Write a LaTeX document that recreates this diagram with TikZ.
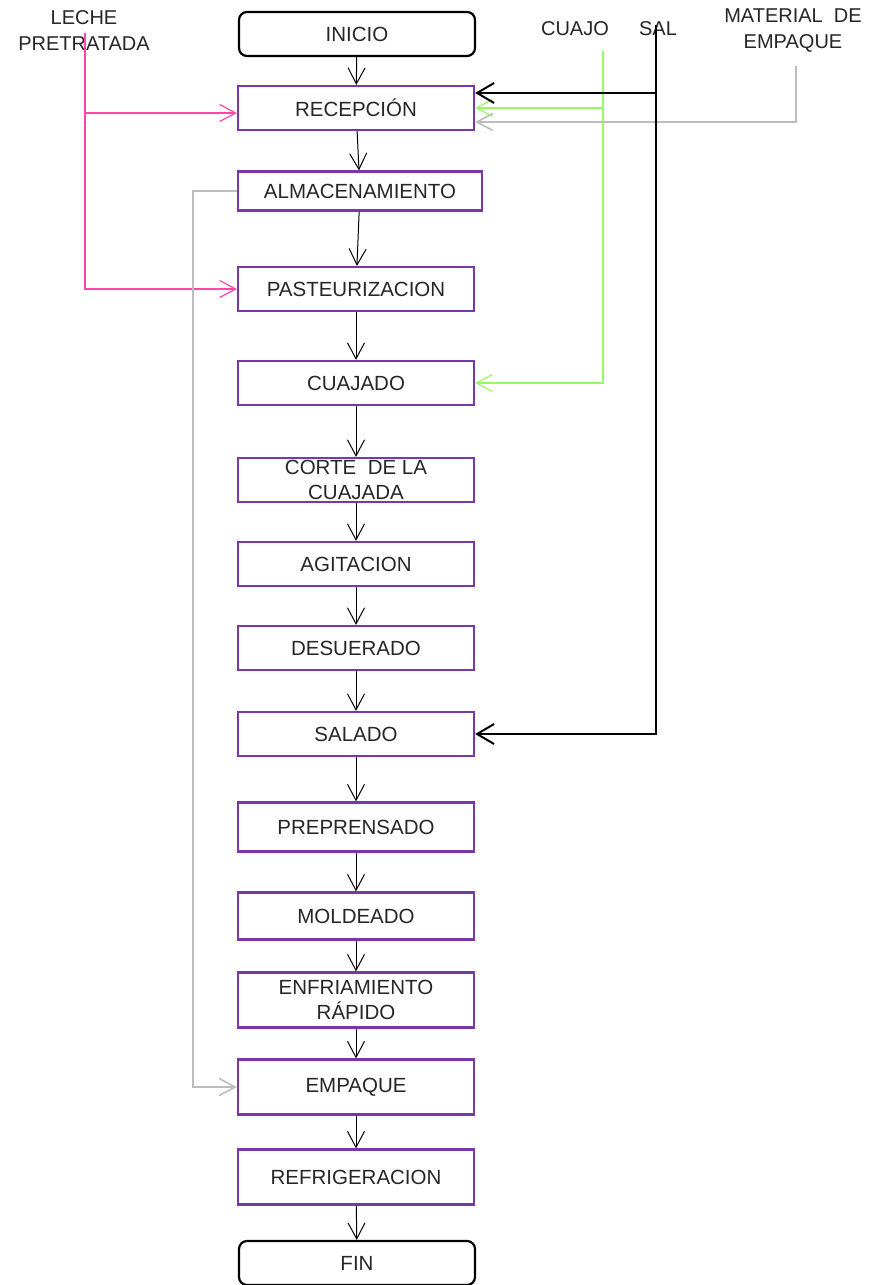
\documentclass[tikz,border=0pt]{standalone}
\usepackage{fontspec}
\setmainfont{Liberation Sans}
\usetikzlibrary{arrows.meta}
\definecolor{morado}{HTML}{7838AC}
\definecolor{rosa}{HTML}{FF45A8}
\definecolor{verde}{HTML}{9CF860}
\definecolor{gris}{HTML}{BDBDBD}
\begin{document}
\begin{tikzpicture}[x=1pt,y=-1pt,>={Straight Barb[length=16pt,width=17pt]}]
	\useasboundingbox (0,0) rectangle (868,1285);
	
	% Style for the boxes
	\tikzstyle{box}=[
	rectangle,
	draw=morado,
	line width=2.2pt,
	minimum width=236pt,
	minimum height=44pt,
	inner sep=0pt,
	text=black!85,
	font=\fontsize{20.5}{25}\selectfont,
	align=center
	]
	\tikzstyle{terminal}=[box,draw=black,rounded corners=8pt]
	\tikzstyle{label}=[text=black!85,inner sep=0pt,font=\fontsize{20}{26}\selectfont,align=center]
	\tikzstyle{flow}=[->,line width=1pt,black]
	
	% --- Main column ---
	\node[terminal] (inicio) at (357, 34) {INICIO};
	\node[box] (recepcion) at (356, 108) {RECEPCIÓN};
	\node[box,minimum width=244pt,minimum height=39pt] (almacenamiento) at (360, 191) {ALMACENAMIENTO};
	\node[box] (pasteurizacion) at (356, 289) {PASTEURIZACION};
	\node[box] (cuajado) at (356, 383) {CUAJADO};
	\node[box] (corte) at (356, 480) {CORTE\ \ DE LA\\CUAJADA};
	\node[box] (agitacion) at (356, 564) {AGITACION};
	\node[box] (desuerado) at (356, 648) {DESUERADO};
	\node[box] (salado) at (356, 734) {SALADO};
	\node[box,minimum height=49pt] (preprensado) at (356, 827) {PREPRENSADO};
	\node[box,minimum height=47pt] (moldeado) at (356, 916) {MOLDEADO};
	\node[box,minimum height=55pt] (enfriamiento) at (356, 1000) {ENFRIAMIENTO\\RÁPIDO};
	\node[box,minimum height=55pt] (empaque) at (356, 1087) {EMPAQUE};
	\node[box,minimum height=55pt] (refrigeracion) at (356, 1177) {REFRIGERACION};
	\node[terminal] (fin) at (357, 1263) {FIN};
	
	% --- Inputs ---
	\node[label] (leche) at (84, 31) {LECHE\\PRETRATADA};
	\node[label] (cuajo) at (575, 29) {CUAJO};
	\node[label] (sal) at (658, 29) {SAL};
	\node[label] (material) at (793, 31) {MATERIAL\ \ DE\\EMPAQUE};
	\coordinate (lecheE) at (85, 33);
	\coordinate (cuajoE) at (603, 51);
	\coordinate (salE) at (656, 25);
	\coordinate (materialE) at (796, 66);
	\coordinate (retorno) at (193, 1087);
	
	% --- Flow ---
	\draw[flow] (inicio) -- (recepcion);
	\draw[flow] (recepcion) -- (almacenamiento);
	\draw[flow] (almacenamiento) -- (pasteurizacion);
	\draw[flow] (pasteurizacion) -- (cuajado);
	\draw[flow] (cuajado) -- (corte);
	\draw[flow] (corte) -- (agitacion);
	\draw[flow] (agitacion) -- (desuerado);
	\draw[flow] (desuerado) -- (salado);
	\draw[flow] (salado) -- (preprensado);
	\draw[flow] (preprensado) -- (moldeado);
	\draw[flow] (moldeado) -- (enfriamiento);
	\draw[flow] (enfriamiento) -- (empaque);
	\draw[flow] (empaque) -- (refrigeracion);
	\draw[flow] (refrigeracion) -- (fin);
	
	% --- Side inputs ---
	\draw[->,rosa,line width=1.2pt] (lecheE) |- ([yshift=-5pt]recepcion.west);
	\draw[->,rosa,line width=1.2pt] (lecheE) |- (pasteurizacion.west);
	\draw[->,verde,line width=1.2pt] (cuajoE) |- (recepcion.east);
	\draw[->,verde,line width=1.2pt] (cuajoE) |- (cuajado.east);
	\draw[->,gris,line width=1.6pt] (materialE) |- ([yshift=-14pt]recepcion.east);
	\draw[->,black,line width=2pt,>={Straight Barb[length=17pt,width=20pt]}] (salE) |- ([yshift=15pt]recepcion.east);
	\draw[->,black,line width=2pt,>={Straight Barb[length=17pt,width=20pt]}] (salE) |- (salado.east);
	\draw[->,gris,line width=1.6pt] (almacenamiento.west) -| (retorno) -- (empaque.west);
\end{tikzpicture}
\end{document}
